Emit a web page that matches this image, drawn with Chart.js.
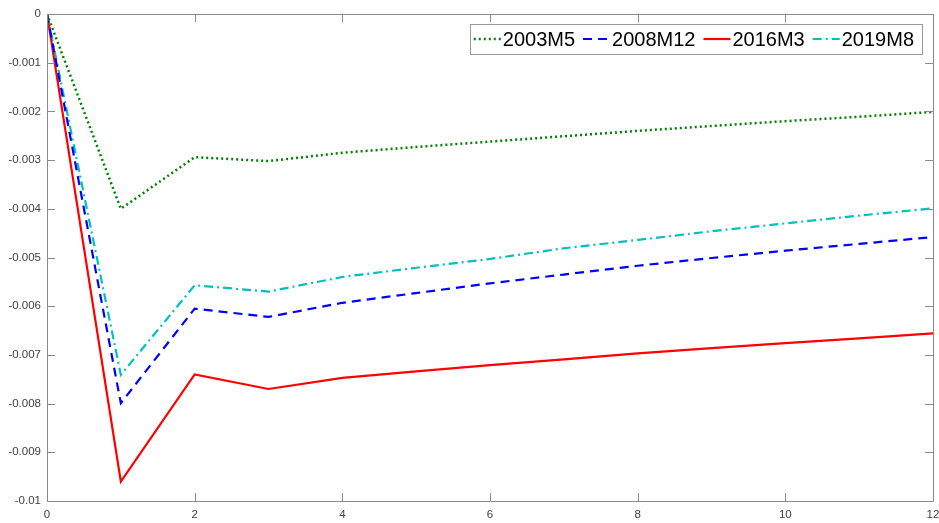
<!DOCTYPE html>
<html>
<head>
<meta charset="utf-8">
<script src="https://cdn.jsdelivr.net/npm/chart.js@4/dist/chart.umd.min.js"></script>
<style>
  html, body { margin: 0; padding: 0; background: #ffffff; }
  #wrap { width: 939px; height: 523px; }
</style>
</head>
<body>
<div id="wrap"><canvas id="c" width="939" height="523"></canvas></div>
<script>
// Impulse-response horizons (months) and the four responses
const horizons = [0, 1, 2, 3, 4, 5, 6, 7, 8, 9, 10, 11, 12];
const resp2003M5  = [0, -0.00400, -0.00294, -0.00302, -0.00285, -0.00273, -0.00262, -0.00251, -0.00240, -0.00230, -0.00220, -0.00211, -0.00201];
const resp2008M12 = [0, -0.00799, -0.00605, -0.00622, -0.00593, -0.00573, -0.00553, -0.00535, -0.00517, -0.00501, -0.00486, -0.00472, -0.00458];
const resp2016M3  = [0, -0.00960, -0.00740, -0.00770, -0.00747, -0.00734, -0.00721, -0.00709, -0.00697, -0.00686, -0.00676, -0.00666, -0.00656];
const resp2019M8  = [0, -0.00741, -0.00557, -0.00570, -0.00540, -0.00521, -0.00503, -0.00481, -0.00464, -0.00446, -0.00430, -0.00414, -0.00399];
const seriesLabels = ['2003M5', '2008M12', '2016M3', '2019M8'];
const xTicks = [0, 2, 4, 6, 8, 10, 12];
const yTicks = [0, -0.001, -0.002, -0.003, -0.004, -0.005, -0.006, -0.007, -0.008, -0.009, -0.01];

const styles = [
  { color: '#008000', dash: [2, 3], width: 2.5, cap: 'butt' },
  { color: '#0000ff', dash: [9, 6], width: 2.2, cap: 'butt' },
  { color: '#ff0000', dash: [],     width: 2.2, cap: 'butt' },
  { color: '#00bfbf', dash: [9, 4, 2, 4], width: 2.2, cap: 'butt' }
];
const allSeries = [resp2003M5, resp2008M12, resp2016M3, resp2019M8];

const datasets = allSeries.map((vals, i) => ({
  label: seriesLabels[i],
  data: horizons.map((h, k) => ({ x: h, y: vals[k] })),
  borderColor: styles[i].color,
  borderDash: styles[i].dash,
  borderWidth: styles[i].width,
  borderCapStyle: styles[i].cap,
  pointRadius: 0,
  tension: 0,
  fill: false
}));

const AXIS_GRAY = '#8a8a8a';
const TICK_FONT = '"Liberation Sans", Arial, Helvetica, sans-serif';

// Box around the plot plus inward-pointing tick marks on all four sides
const framePlugin = {
  id: 'frame',
  afterDatasetsDraw(chart) {
    const { ctx, chartArea: a, scales } = chart;
    const len = 8;
    ctx.save();
    ctx.strokeStyle = AXIS_GRAY;
    ctx.lineWidth = 1;
    ctx.setLineDash([]);
    ctx.beginPath();
    ctx.rect(Math.round(a.left) + 0.5, Math.round(a.top) + 0.5,
             Math.round(a.right - a.left), Math.round(a.bottom - a.top));
    xTicks.forEach(v => {
      const px = Math.round(scales.x.getPixelForValue(v)) + 0.5;
      ctx.moveTo(px, a.bottom); ctx.lineTo(px, a.bottom - len);
      ctx.moveTo(px, a.top);    ctx.lineTo(px, a.top + len);
    });
    yTicks.forEach(v => {
      const py = Math.round(scales.y.getPixelForValue(v)) + 0.5;
      ctx.moveTo(a.left, py);  ctx.lineTo(a.left + len, py);
      ctx.moveTo(a.right, py); ctx.lineTo(a.right - len, py);
    });
    ctx.stroke();
    ctx.restore();
  }
};

// Legend box drawn inside the top-right corner of the plot
const legendPlugin = {
  id: 'insetLegend',
  afterDraw(chart) {
    const { ctx, chartArea: a } = chart;
    ctx.save();
    ctx.font = '20px ' + TICK_FONT;
    const sample = 27, gapAfterSample = 2, gapAfterText = 8, padL = 4, padR = 0;
    const widths = seriesLabels.map(t => ctx.measureText(t).width);
    let total = padL + padR;
    widths.forEach(w => { total += sample + gapAfterSample + w + gapAfterText; });
    const boxH = 30;
    const right = a.right - 11;
    const left = right - total;
    const top = a.top + 10;
    ctx.fillStyle = '#ffffff';
    ctx.fillRect(left, top, total, boxH);
    ctx.strokeStyle = '#9a9a9a';
    ctx.lineWidth = 1;
    ctx.strokeRect(Math.round(left) + 0.5, Math.round(top) + 0.5, Math.round(total), boxH);
    const cy = top + boxH / 2;
    let x = left + padL;
    seriesLabels.forEach((t, i) => {
      const s = styles[i];
      ctx.strokeStyle = s.color;
      ctx.lineWidth = s.width;
      ctx.lineCap = s.cap;
      ctx.setLineDash(s.dash);
      ctx.beginPath();
      ctx.moveTo(x, cy); ctx.lineTo(x + sample, cy);
      ctx.stroke();
      ctx.setLineDash([]);
      ctx.fillStyle = '#000000';
      ctx.textBaseline = 'middle';
      ctx.textAlign = 'left';
      ctx.fillText(t, x + sample + gapAfterSample, cy + 1);
      x += sample + gapAfterSample + widths[i] + gapAfterText;
    });
    ctx.restore();
  }
};

new Chart(document.getElementById('c'), {
  type: 'line',
  data: { datasets },
  options: {
    responsive: false,
    animation: false,
    layout: { padding: { top: 14, right: 6, left: 0, bottom: 0 } },
    plugins: { legend: { display: false }, tooltip: { enabled: false } },
    scales: {
      x: {
        type: 'linear',
        min: 0, max: 12,
        afterBuildTicks(scale) { scale.ticks = xTicks.map(v => ({ value: v })); },
        afterFit(scale) {
          scale.height = 22;
          scale.paddingLeft = 0;
          scale.paddingRight = 0;
        },
        grid: { display: false, drawTicks: false },
        border: { display: false },
        ticks: {
          padding: 7,
          color: '#404040',
          font: { family: TICK_FONT, size: 11.5 },
          maxRotation: 0,
          callback: v => String(v)
        }
      },
      y: {
        type: 'linear',
        min: -0.01, max: 0,
        afterBuildTicks(scale) { scale.ticks = yTicks.map(v => ({ value: v })); },
        afterFit(scale) {
          scale.width = 47;
          scale.paddingTop = 0;
          scale.paddingBottom = 0;
        },
        grid: { display: false, drawTicks: false },
        border: { display: false },
        ticks: {
          padding: 6,
          color: '#404040',
          font: { family: TICK_FONT, size: 11.5 },
          callback: v => String(parseFloat(Number(v).toFixed(4)))
        }
      }
    }
  },
  plugins: [framePlugin, legendPlugin]
});
</script>
</body>
</html>
